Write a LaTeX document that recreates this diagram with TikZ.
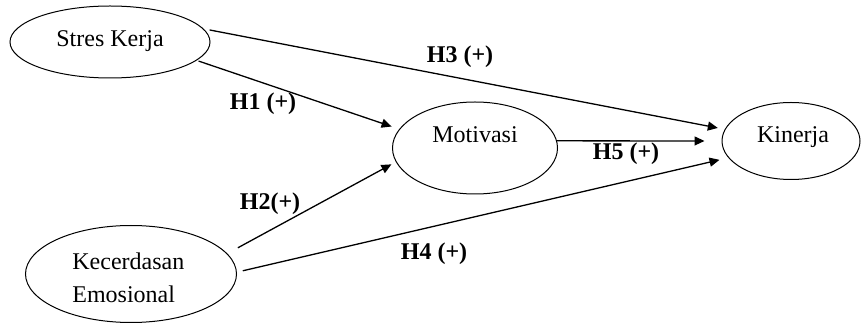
\documentclass[tikz,border=0pt]{standalone}
\usepackage{fontspec}
\setmainfont{Liberation Serif}
\usetikzlibrary{arrows.meta,shapes.geometric}

\begin{document}
\begin{tikzpicture}[
      var/.style={draw,ellipse,line width=0.5pt,inner sep=0pt},
      txt/.style={font=\fontsize{12}{16.5}\selectfont,inner sep=0pt,align=left},
      hyp/.style={font=\fontsize{12}{14}\selectfont\bfseries,inner sep=0pt},
      link/.style={line width=0.65pt,-{Triangle[length=5pt,width=4.5pt]}},
      x=0.5pt,y=-0.5pt]
    \useasboundingbox (0,0) rectangle (861,325);
    \node[var,minimum width=100pt,minimum height=36pt] (stres) at (110,42) {};
    \node[var,minimum width=82.5pt,minimum height=46pt] (mot) at (475,148) {};
    \node[var,minimum width=69pt,minimum height=38.5pt] (kin) at (791,141) {};
    \node[var,minimum width=105.5pt,minimum height=48.5pt] (kec) at (131,274) {};
    \node[txt,anchor=base] (stres-t) at (110,47) {Stres Kerja};
    \node[txt,anchor=base] (mot-t) at (475,143) {Motivasi};
    \node[txt,anchor=base] (kin-t) at (793,143) {Kinerja};
    \node[txt,anchor=base west] (kec-t) at (72,303) {Kecerdasan\\Emosional};
    \draw[link,shorten <=3pt,shorten >=3.5pt] (stres.8) -- (kin.170);
    \draw[link,shorten <=1pt,shorten >=4pt] (stres.-12) -- (mot.166);
    \draw[link,shorten <=6pt,shorten >=2.5pt] (kec.12) -- (mot.190);
    \draw[link,shorten <=3pt,shorten >=4.5pt] (kec.1) -- (kin.195);
    \draw[link,shorten >=8.5pt] (mot.5) -- (kin.180);
    \node[hyp,anchor=base] (h1) at (263,110) {H1 (+)};
    \node[hyp,anchor=base] (h2) at (270,210) {H2(+)};
    \node[hyp,anchor=base] (h3) at (460,63) {H3 (+)};
    \node[hyp,anchor=base] (h4) at (434,260) {H4 (+)};
    \node[hyp,anchor=base] (h5) at (626,160) {H5 (+)};
  \end{tikzpicture}
\end{document}
